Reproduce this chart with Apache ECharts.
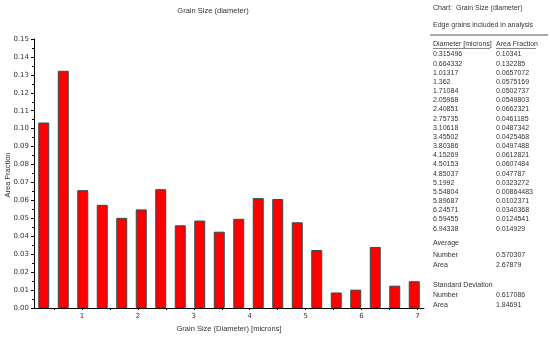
<!DOCTYPE html>
<html><head><meta charset="utf-8">
<script src="https://cdn.jsdelivr.net/npm/echarts@6/dist/echarts.min.js"></script>
<style>html,body{margin:0;padding:0;background:#fff}#c{width:550px;height:338px}</style>
</head><body><div id="c"></div>
<script>
var diameters = [0.315496,0.664332,1.01317,1.362,1.71084,2.05968,2.40851,2.75735,3.10618,3.45502,3.80386,4.15269,4.50153,4.85037,5.1992,5.54804,5.89687,6.24571,6.59455,6.94338];
var diameterLabels = ["0.315496","0.664332","1.01317","1.362","1.71084","2.05968","2.40851","2.75735","3.10618","3.45502","3.80386","4.15269","4.50153","4.85037","5.1992","5.54804","5.89687","6.24571","6.59455","6.94338"];
var fractions = [0.10341,0.132285,0.0657072,0.0575169,0.0502737,0.0549803,0.0662321,0.0461185,0.0487342,0.0425468,0.0497488,0.0612821,0.0607484,0.047787,0.0323272,0.00864483,0.0102371,0.0340368,0.0124541,0.014929];
var fractionLabels = ["0.10341","0.132285","0.0657072","0.0575169","0.0502737","0.0549803","0.0662321","0.0461185","0.0487342","0.0425468","0.0497488","0.0612821","0.0607484","0.047787","0.0323272","0.00864483","0.0102371","0.0340368","0.0124541","0.014929"];
var xTicks = [0.5,1,1.5,2,2.5,3,3.5,4,4.5,5,5.5,6,6.5,7];
var xLabels = [1,2,3,4,5,6,7];
var statsAverage = [["Number","0.570307"],["Area","2.67879"]];
var statsStd = [["Number","0.617086"],["Area","1.84691"]];

var binW = diameters[1]-diameters[0];
var xMin = diameters[0]-binW/2, xMax = diameters[diameters.length-1]+binW/2;
var font = 'Liberation Sans, Arial, sans-serif';
var tc = '#333';
var g = [];
function txt(x,y,s,extra){var o={type:'text',x:x,y:y,style:{text:s,fill:tc,font:'7px '+font,verticalAlign:'top'}};if(extra)Object.assign(o.style,extra);g.push(o);}
txt(433,5,'Chart:  Grain Size (diameter)');
txt(433,22,'Edge grains included in analysis');
g.push({type:'line',shape:{x1:430,y1:35,x2:548,y2:35},style:{stroke:'#555',lineWidth:1}});
txt(433,41,'Diameter [microns]');
txt(496,41,'Area Fraction');
g.push({type:'line',shape:{x1:433,y1:48.5,x2:490,y2:48.5},style:{stroke:'#555',lineWidth:0.7}});
g.push({type:'line',shape:{x1:496,y1:48.5,x2:536,y2:48.5},style:{stroke:'#555',lineWidth:0.7}});
for(var i=0;i<diameterLabels.length;i++){
  var yy=51+i*9.17;
  txt(433,yy,diameterLabels[i]);
  txt(496,yy,fractionLabels[i]);
}
txt(433,240,'Average');
txt(433,252,statsAverage[0][0]);txt(496,252,statsAverage[0][1]);
txt(433,262,statsAverage[1][0]);txt(496,262,statsAverage[1][1]);
txt(433,282,'Standard Deviation');
txt(433,292,statsStd[0][0]);txt(496,292,statsStd[0][1]);
txt(433,302,statsStd[1][0]);txt(496,302,statsStd[1][1]);
txt(213,7,'Grain Size (diameter)',{align:'center',font:'7.5px '+font});
g.push({type:'text',x:8,y:175,rotation:Math.PI/2,style:{text:'Area Fraction',fill:tc,font:'7.5px '+font,align:'center',verticalAlign:'middle'}});

var chart = echarts.init(document.getElementById('c'));
chart.setOption({
  animation:false,
  textStyle:{fontFamily:font},
  grid:{left:34,right:126,top:39,bottom:30,outerBoundsMode:'none',containLabel:false},
  graphic:g,
  xAxis:{type:'value',min:xMin,max:xMax,
    name:'Grain Size (Diameter) [microns]',nameLocation:'middle',nameGap:15,
    nameTextStyle:{fontSize:7.5,color:tc,fontFamily:font},
    axisLine:{show:true,lineStyle:{color:'#000',width:1}},
    axisTick:{show:true,customValues:xTicks,length:2,lineStyle:{color:'#000'}},
    axisLabel:{customValues:xLabels,fontSize:7,color:tc,fontFamily:'DejaVu Sans',margin:5},
    splitLine:{show:false}},
  yAxis:{type:'value',min:0,max:0.15,interval:0.01,
    axisLine:{show:true,lineStyle:{color:'#000',width:1}},
    axisTick:{show:true,length:3,inside:false,lineStyle:{color:'#000'}},
    minorTick:{show:true,splitNumber:2,length:2,lineStyle:{color:'#000'}},
    axisLabel:{fontSize:7,color:tc,fontFamily:'DejaVu Sans',margin:5,formatter:function(v){return v.toFixed(2);}},
    splitLine:{show:false}},
  series:[{type:'bar',barWidth:11,
    data:diameters.map(function(d,i){return [d,fractions[i]];}),
    itemStyle:{color:'#ff0000',borderColor:'#2f4f4f',borderWidth:1}}]
});
</script></body></html>
